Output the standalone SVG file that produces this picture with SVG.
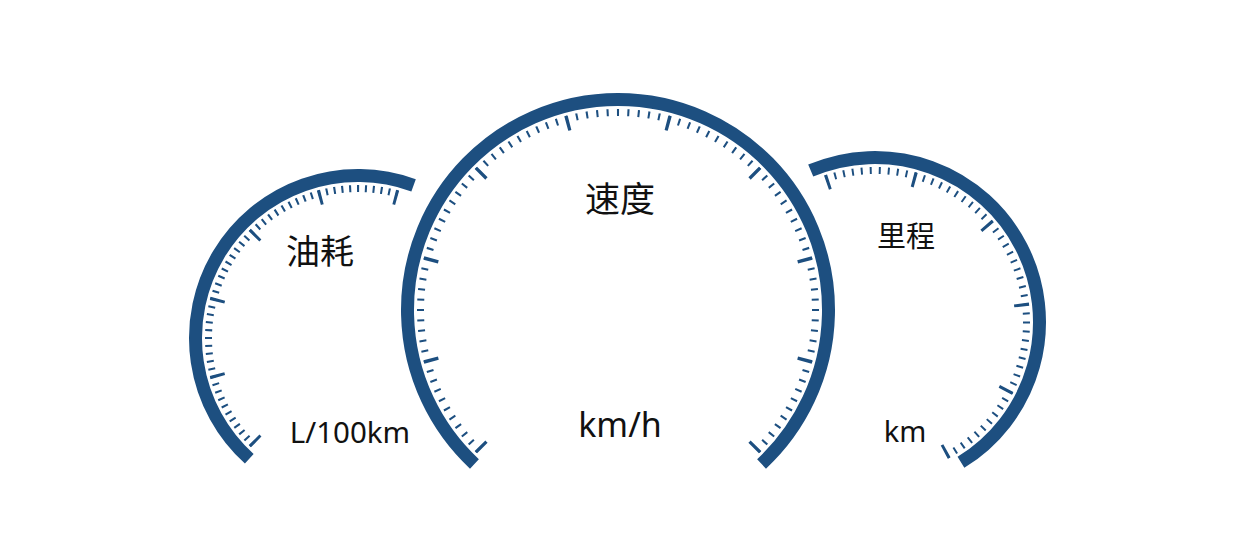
<svg xmlns="http://www.w3.org/2000/svg" width="1242" height="539" viewBox="0 0 1242 539">
  <style>
    .band { fill: none; stroke: #1d4f80; stroke-width: 13; stroke-linecap: butt; }
    .minor { fill: none; stroke: #1d4f80; stroke-width: 7; }
    .major { fill: none; stroke: #1d4f80; stroke-width: 15; }
    .lbl { font-family: "Noto Sans", "Noto Sans CJK SC", sans-serif; fill: #111; text-anchor: middle; }
  </style>
  <rect width="1242" height="539" fill="#ffffff"/>
  <g id="gauge-fuel">
    <path class="band" d="M249.27 458.76 A162.5 162.5 0 0 1 413.58 185.30"/>
    <path class="minor" pathLength="150.8" stroke-dasharray="0.8 2.2" d="M253.03 444.45 A149.5 149.5 0 0 1 397.70 193.87"/>
    <path class="major" pathLength="151.2" stroke-dasharray="1.2 28.8" d="M256.20 441.96 A145.5 145.5 0 0 1 397.13 197.86"/>
    <text class="lbl" x="350" y="264" font-size="34" transform="translate(-30 0)">油耗</text>
    <text class="lbl" x="350" y="443" font-size="29.5">L/100km</text>
  </g>
  <g id="gauge-speed">
    <path class="band" d="M474.44 463.95 A210.5 210.5 0 1 1 761.56 463.95"/>
    <path class="minor" pathLength="270.6" stroke-dasharray="0.6 2.4" d="M479.08 450.38 A197.5 197.5 0 1 1 756.92 450.38"/>
    <path class="major" pathLength="271" stroke-dasharray="1 29" d="M482.37 448.01 A193.5 193.5 0 1 1 753.63 448.01"/>
    <text class="lbl" x="620" y="212" font-size="35">速度</text>
    <text class="lbl" x="620" y="437" font-size="34">km/h</text>
  </g>
  <g id="gauge-mileage">
    <path class="band" d="M810.72 170.58 A164.5 164.5 0 0 1 960.95 462.26"/>
    <path class="minor" pathLength="170.75" stroke-dasharray="0.75 2.65" d="M825.74 178.73 A151.5 151.5 0 0 1 946.65 455.49"/>
    <path class="major" pathLength="171.2" stroke-dasharray="1.2 32.8" d="M826.49 182.70 A147.5 147.5 0 0 1 944.25 452.24"/>
    <text class="lbl" x="906" y="247" font-size="29">里程</text>
    <text class="lbl" x="905" y="442" font-size="29">km</text>
  </g>
</svg>
